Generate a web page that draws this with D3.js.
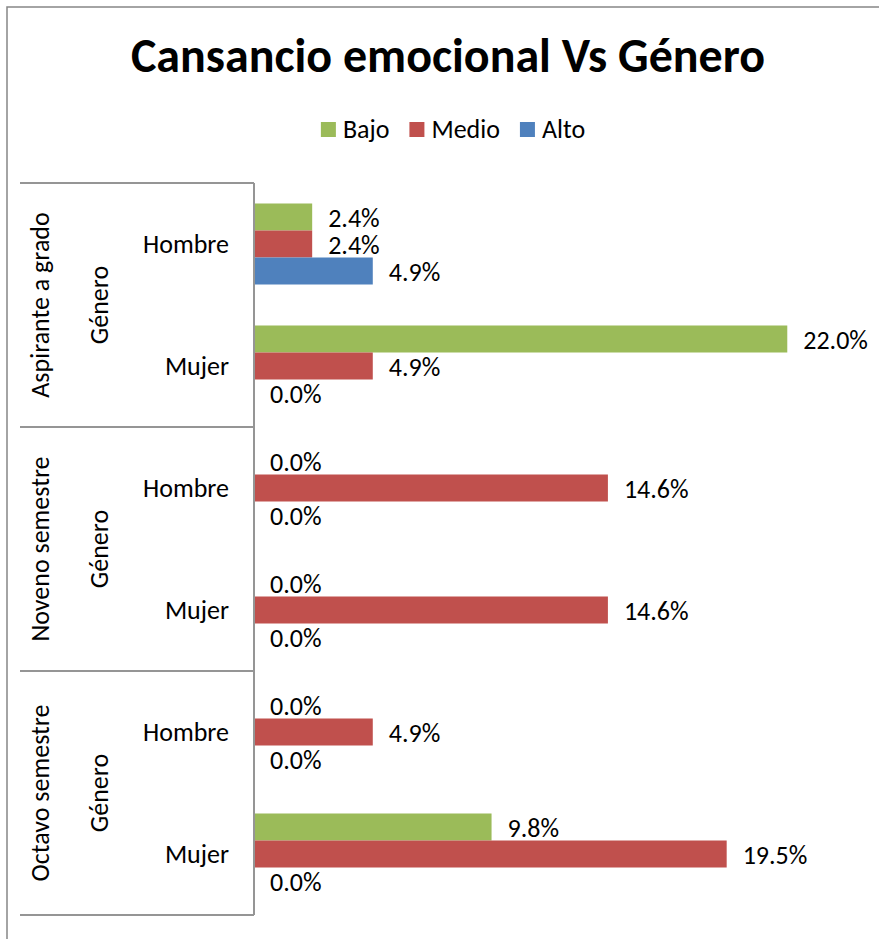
<!DOCTYPE html>
<html><head><meta charset="utf-8">
<script src="https://cdn.jsdelivr.net/npm/d3@7"></script>
<style>
body{margin:0;background:#fff}
text{font-family:Carlito, Calibri, Lato, sans-serif;fill:#000}
</style>
</head><body>
<svg id="c" width="879" height="939"></svg>
<script>
const title = "Cansancio emocional Vs Género";
const groups = ["Aspirante a grado", "Noveno semestre", "Octavo semestre"];
const genders = ["Hombre", "Mujer"];
const levelLabel = "Género";
const series = ["Bajo", "Medio", "Alto"];
const colors = ["#9BBB59", "#C0504D", "#4F81BD"];
// order: Aspirante-Hombre, Aspirante-Mujer, Noveno-Hombre, Noveno-Mujer, Octavo-Hombre, Octavo-Mujer
const bajo  = [0.024, 0.220, 0.000, 0.000, 0.000, 0.098];
const medio = [0.024, 0.049, 0.146, 0.146, 0.049, 0.195];
const alto  = [0.049, 0.000, 0.000, 0.000, 0.000, 0.000];

(function () {
const svg = d3.select("#c");
const values = [bajo, medio, alto];
const cats = [];
groups.forEach(g => genders.forEach(s => cats.push(g + "|" + s)));

const fs = "26px";
const plotTop = 183, plotBottom = 915, axisX = 254;
const y0 = d3.scaleBand().domain(cats).range([plotTop, plotBottom]).paddingInner(0.336).paddingOuter(0.168);
const y1 = d3.scaleBand().domain(series).range([0, y0.bandwidth()]);
const gy = d3.scaleBand().domain(groups).range([plotTop, plotBottom]);
const x = d3.scaleLinear().domain([0, 0.25]).range([axisX, 860]);
const fmt = d3.format(".1%");

// outer border
svg.append("rect").attr("x", 7).attr("y", 7).attr("width", 950).attr("height", 1000)
  .attr("fill", "none").attr("stroke", "#868686").attr("stroke-width", 1.5);

// title
svg.append("text").attr("x", 448).attr("y", 72).attr("text-anchor", "middle")
  .style("font-size", "48px").style("font-weight", "bold").text(title);

// legend
const leg = svg.append("g");
let lx = 0;
series.forEach((s, i) => {
  const g = leg.append("g").attr("transform", `translate(${lx},0)`);
  g.append("rect").attr("x", 0).attr("y", 122).attr("width", 15).attr("height", 15).attr("fill", colors[i]);
  const t = g.append("text").attr("x", 22).attr("y", 138).style("font-size", fs).text(s);
  lx += 22 + t.node().getComputedTextLength() + 20;
});
const legW = lx - 20;
leg.attr("transform", `translate(${453 - legW / 2},0)`);

// bars
const bars = svg.append("g");
series.forEach((s, si) => {
  cats.forEach((c, ci) => {
    const v = values[si][ci];
    const yy = y0(c) + y1(s);
    bars.append("rect").attr("x", x(0)).attr("y", yy)
      .attr("width", x(v) - x(0)).attr("height", y1.bandwidth()).attr("fill", colors[si]);
    bars.append("text").attr("x", x(v) + 16).attr("y", yy + y1.bandwidth() / 2 + 10)
      .style("font-size", fs).text(fmt(v));
  });
});

// axis lines
const axisCol = "#959595";
svg.append("line").attr("x1", axisX).attr("x2", axisX).attr("y1", plotTop).attr("y2", plotBottom)
  .attr("stroke", axisCol).attr("stroke-width", 2);
const lineYs = groups.map(g => gy(g)).concat([gy(groups[groups.length - 1]) + gy.bandwidth()]);
lineYs.forEach(ly => {
  svg.append("line").attr("x1", 20).attr("x2", axisX).attr("y1", ly).attr("y2", ly)
    .attr("stroke", axisCol).attr("stroke-width", 2);
});

// category labels
cats.forEach(c => {
  const s = c.split("|")[1];
  svg.append("text").attr("x", 229).attr("y", y0(c) + y0.bandwidth() / 2 + 8.5)
    .attr("text-anchor", "end").style("font-size", fs).text(s);
});
groups.forEach(g => {
  const cy = gy(g) + gy.bandwidth() / 2;
  svg.append("text").attr("transform", `translate(48.5,${cy}) rotate(-90)`)
    .attr("text-anchor", "middle").style("font-size", fs).text(g);
  svg.append("text").attr("transform", `translate(107.5,${cy}) rotate(-90)`)
    .attr("text-anchor", "middle").style("font-size", fs).text(levelLabel);
});
})();
</script>
</body></html>
